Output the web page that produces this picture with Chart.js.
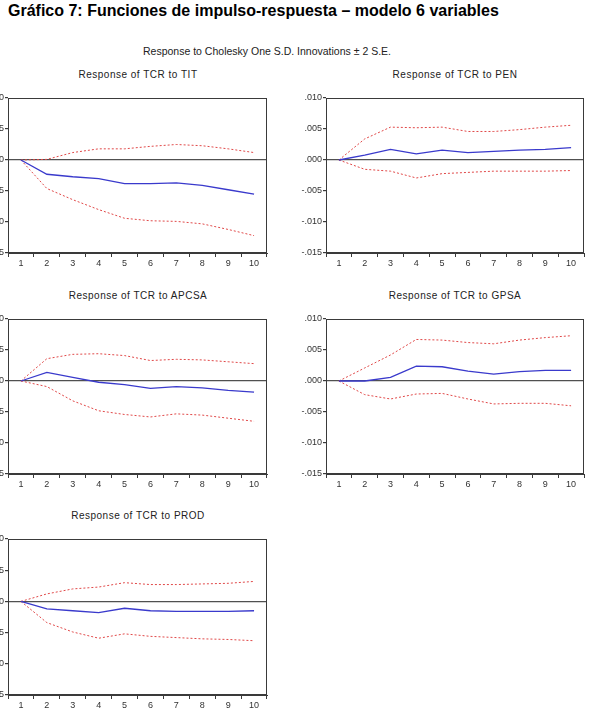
<!DOCTYPE html>
<html>
<head>
<meta charset="utf-8">
<script src="https://cdn.jsdelivr.net/npm/chart.js@4.4.0/dist/chart.umd.min.js"></script>
<style>
  html, body { margin:0; padding:0; background:#fff; }
  body { width:589px; height:723px; position:relative; overflow:hidden; font-family:"Liberation Sans", Arial, sans-serif; }
  .abs { position:absolute; }
  .main-title { left:8px; top:2px; font-weight:bold; font-size:16px; color:#000; white-space:nowrap; }
  .sub-title { left:143px; top:45px; font-size:10.5px; color:#222; white-space:nowrap; }
  .ptitle { font-size:10px; letter-spacing:0.5px; color:#222; text-align:center; width:260px; line-height:12px; white-space:nowrap; }
  canvas { position:absolute; }
</style>
</head>
<body>
<div class="abs main-title">Gráfico 7: Funciones de impulso-respuesta – modelo 6 variables</div>
<div class="abs sub-title">Response to Cholesky One S.D. Innovations ± 2 S.E.</div>

<div class="abs ptitle" style="left:8px;top:69px">Response of TCR to TIT</div>
<div class="abs ptitle" style="left:325px;top:69px">Response of TCR to PEN</div>
<div class="abs ptitle" style="left:8px;top:290px">Response of TCR to APCSA</div>
<div class="abs ptitle" style="left:325px;top:290px">Response of TCR to GPSA</div>
<div class="abs ptitle" style="left:8px;top:510px">Response of TCR to PROD</div>

<canvas id="c-tit" width="302" height="183" style="left:-29px;top:90px"></canvas>
<canvas id="c-pen" width="300" height="183" style="left:289px;top:90px"></canvas>
<canvas id="c-apcsa" width="302" height="183" style="left:-29px;top:311px"></canvas>
<canvas id="c-gpsa" width="300" height="183" style="left:289px;top:311px"></canvas>
<canvas id="c-prod" width="302" height="184" style="left:-29px;top:531px"></canvas>

<script>
// ── DATA ────────────────────────────────────────────────────────────────
const periods = ['1','2','3','4','5','6','7','8','9','10'];
const yTicks = [-0.015, -0.010, -0.005, 0.000, 0.005, 0.010];

// TCR to TIT
const titResp  = [0, -0.0023, -0.0027, -0.0030, -0.0038, -0.0038, -0.0037, -0.0041, -0.0048, -0.0055];
const titUpper = [0, 0.0001, 0.0012, 0.0018, 0.0018, 0.0022, 0.0025, 0.0023, 0.0018, 0.0012];
const titLower = [0, -0.0046, -0.0064, -0.0080, -0.0094, -0.0098, -0.0099, -0.0103, -0.0112, -0.0122];

// TCR to PEN
const penResp  = [0, 0.0008, 0.0017, 0.0010, 0.0016, 0.0012, 0.0014, 0.0016, 0.0017, 0.0020];
const penUpper = [0, 0.0034, 0.0053, 0.0052, 0.0053, 0.0046, 0.0046, 0.0049, 0.0053, 0.0056];
const penLower = [0, -0.0015, -0.0018, -0.0029, -0.0022, -0.0020, -0.0018, -0.0018, -0.0018, -0.0017];

// TCR to APCSA
const apcsaResp  = [0, 0.0014, 0.0006, -0.0002, -0.0006, -0.0012, -0.0009, -0.0011, -0.0015, -0.0018];
const apcsaUpper = [0, 0.0036, 0.0043, 0.0044, 0.0041, 0.0033, 0.0035, 0.0034, 0.0031, 0.0028];
const apcsaLower = [0, -0.0009, -0.0032, -0.0048, -0.0054, -0.0058, -0.0053, -0.0055, -0.0060, -0.0065];

// TCR to GPSA
const gpsaResp  = [0, 0.0000, 0.0006, 0.0024, 0.0023, 0.0016, 0.0011, 0.0015, 0.0017, 0.0017];
const gpsaUpper = [0, 0.0021, 0.0042, 0.0067, 0.0066, 0.0062, 0.0060, 0.0066, 0.0070, 0.0073];
const gpsaLower = [0, -0.0022, -0.0029, -0.0021, -0.0020, -0.0029, -0.0037, -0.0036, -0.0036, -0.0040];

// TCR to PROD
const prodResp  = [0, -0.0012, -0.0015, -0.0018, -0.0011, -0.0015, -0.0016, -0.0016, -0.0016, -0.0015];
const prodUpper = [0, 0.0012, 0.0020, 0.0023, 0.0030, 0.0027, 0.0027, 0.0028, 0.0029, 0.0032];
const prodLower = [0, -0.0034, -0.0049, -0.0059, -0.0052, -0.0056, -0.0058, -0.0060, -0.0061, -0.0063];

// ── CHARTS ──────────────────────────────────────────────────────────────
const axisColor = '#3a3a3a';
const zeroColor = '#505050';
const tickFont = {family: "'Liberation Sans', Arial, sans-serif", size: 9};

// box around the plot area (EViews style)
const framePlugin = {
  id: 'frame',
  afterDraw(chart) {
    const {ctx, chartArea: a} = chart;
    ctx.save();
    ctx.strokeStyle = axisColor;
    ctx.lineWidth = 1;
    ctx.strokeRect(Math.round(a.left) + 0.5, Math.round(a.top) + 0.5,
                   Math.round(a.right - a.left) - 1, Math.round(a.bottom - a.top) - 1);
    ctx.restore();
  }
};

function fmtTick(v) {
  if (Math.abs(v) < 1e-9) return '.000';
  return v.toFixed(3).replace('0.', '.');
}

function drawIRF(id, resp, upper, lower, rightPad) {
  new Chart(document.getElementById(id), {
    type: 'line',
    data: {
      labels: periods,
      datasets: [
        {data: resp, borderColor: '#3a3acc', borderWidth: 1.3, pointRadius: 0, tension: 0, fill: false},
        {data: upper, borderColor: '#e04848', borderWidth: 1, borderDash: [2, 2], pointRadius: 0, tension: 0, fill: false},
        {data: lower, borderColor: '#e04848', borderWidth: 1, borderDash: [2, 2], pointRadius: 0, tension: 0, fill: false},
      ]
    },
    options: {
      responsive: false, animation: false, devicePixelRatio: 1,
      layout: {padding: {top: 8, right: rightPad, left: 0, bottom: 0}},
      plugins: {legend: {display: false}, tooltip: {enabled: false}},
      scales: {
        x: {
          offset: true,
          grid: {offset: true, color: 'transparent', tickColor: axisColor, tickLength: 4, drawTicks: true},
          border: {display: true, color: axisColor},
          ticks: {color: '#333', font: tickFont, padding: 1, maxRotation: 0, autoSkip: false},
          afterFit(s) { s.height = 20; }
        },
        y: {
          min: yTicks[0], max: yTicks[yTicks.length - 1],
          afterBuildTicks(s) { s.ticks = yTicks.map(v => ({value: v})); },
          grid: {
            color: c => (c.tick && Math.abs(c.tick.value) < 1e-9) ? zeroColor : 'transparent',
            lineWidth: 1.2, tickColor: axisColor, tickLength: 3, drawTicks: true
          },
          border: {display: true, color: axisColor},
          ticks: {color: '#333', font: tickFont, padding: 1, callback: v => fmtTick(v)},
          afterFit(s) { s.width = 37; }
        }
      }
    },
    plugins: [framePlugin]
  });
}

drawIRF('c-tit', titResp, titUpper, titLower, 6);
drawIRF('c-pen', penResp, penUpper, penLower, 5);
drawIRF('c-apcsa', apcsaResp, apcsaUpper, apcsaLower, 6);
drawIRF('c-gpsa', gpsaResp, gpsaUpper, gpsaLower, 5);
drawIRF('c-prod', prodResp, prodUpper, prodLower, 6);
</script>
</body>
</html>
